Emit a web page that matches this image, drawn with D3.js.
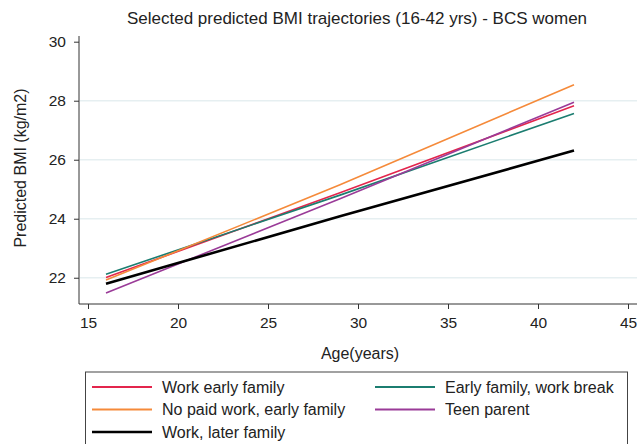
<!DOCTYPE html>
<html><head><meta charset="utf-8">
<script src="https://cdn.jsdelivr.net/npm/d3@7"></script>
<style>body{margin:0;background:#fff}svg{display:block}text{font-family:"Liberation Sans",Arial,sans-serif;fill:#222}</style>
</head><body>
<script>
const ages = [16, 29, 42];
const seriesNames = ["Work early family","Early family, work break","No paid work, early family","Teen parent","Work, later family"];
const workEarlyFamily = [22.01, 24.88, 27.83];
const earlyFamilyWorkBreak = [22.12, 24.80, 27.57];
const noPaidWorkEarlyFamily = [21.92, 25.15, 28.54];
const teenParent = [21.48, 24.68, 27.95];
const workLaterFamily = [21.80, 24.08, 26.31];
const xTicks = [15,20,25,30,35,40,45];
const yTicks = [22,24,26,28,30];
const colors = ["#e3254c","#1b7d70","#f58a3a","#9a3b98","#000000"];
const widths = [1.6,1.6,1.6,1.6,2.6];
const values = [workEarlyFamily, earlyFamilyWorkBreak, noPaidWorkEarlyFamily, teenParent, workLaterFamily];

const W=642,H=444;
const svg=d3.select("body").append("svg").attr("width",W).attr("height",H);
const x=d3.scaleLinear().domain([14.5,45.5]).range([79,637]);
const y=d3.scaleLinear().domain([21.11,30]).range([304,41.7]);

svg.append("text").attr("x",357).attr("y",24).attr("text-anchor","middle").attr("font-size",17).text("Selected predicted BMI trajectories (16-42 yrs) - BCS women");

// gridlines
svg.append("g").selectAll("line").data(yTicks.filter(d=>d<30)).join("line")
  .attr("x1",80).attr("x2",637).attr("y1",d=>y(d)).attr("y2",d=>y(d))
  .attr("stroke","#e6eff1").attr("stroke-width",1.5);

// axes
const gx=svg.append("g").attr("transform","translate(0,304)")
  .call(d3.axisBottom(x).tickValues(xTicks).tickSize(5).tickPadding(8).tickSizeOuter(0));
const gy=svg.append("g").attr("transform","translate(79,0)")
  .call(d3.axisLeft(y).tickValues(yTicks).tickSize(5).tickPadding(8).tickSizeOuter(0));
[gx,gy].forEach(g=>{g.selectAll("path").attr("stroke","#333");g.selectAll("line").attr("stroke","#333");g.selectAll("text").attr("font-size",15.5).attr("fill","#222").style("font-family","Liberation Sans, Arial, sans-serif");});
gy.select("path").attr("d","M0,36V304");
gx.select("path").attr("d","M79,0H637");

svg.append("text").attr("x",360).attr("y",359).attr("text-anchor","middle").attr("font-size",16).text("Age(years)");
svg.append("text").attr("transform","translate(26,168) rotate(-90)").attr("text-anchor","middle").attr("font-size",16).text("Predicted BMI (kg/m2)");

// lines
const line=d3.line().x((d,i)=>x(ages[i])).y(d=>y(d));
svg.append("g").selectAll("path").data(values.map((v,i)=>({v,i}))).join("path")
  .attr("d",d=>line(d.v)).attr("fill","none")
  .attr("stroke",d=>colors[d.i]).attr("stroke-width",d=>widths[d.i]);

// legend
svg.append("rect").attr("x",85.5).attr("y",372).attr("width",542).attr("height",90).attr("fill","none").attr("stroke","#444").attr("stroke-width",1);
const legPos=[[0,0],[1,0],[0,1],[1,1],[0,2]];
const lg=svg.append("g").selectAll("g").data(seriesNames.map((n,i)=>({n,i}))).join("g")
  .attr("transform",d=>`translate(${legPos[d.i][0]?375:92},${387+legPos[d.i][1]*22.5})`);
lg.append("line").attr("x1",0).attr("x2",60).attr("stroke",d=>colors[d.i]).attr("stroke-width",d=>d.i===4?2.6:1.8);
lg.append("text").attr("x",70).attr("y",5.5).attr("font-size",16).text(d=>d.n);
</script>
</body></html>
